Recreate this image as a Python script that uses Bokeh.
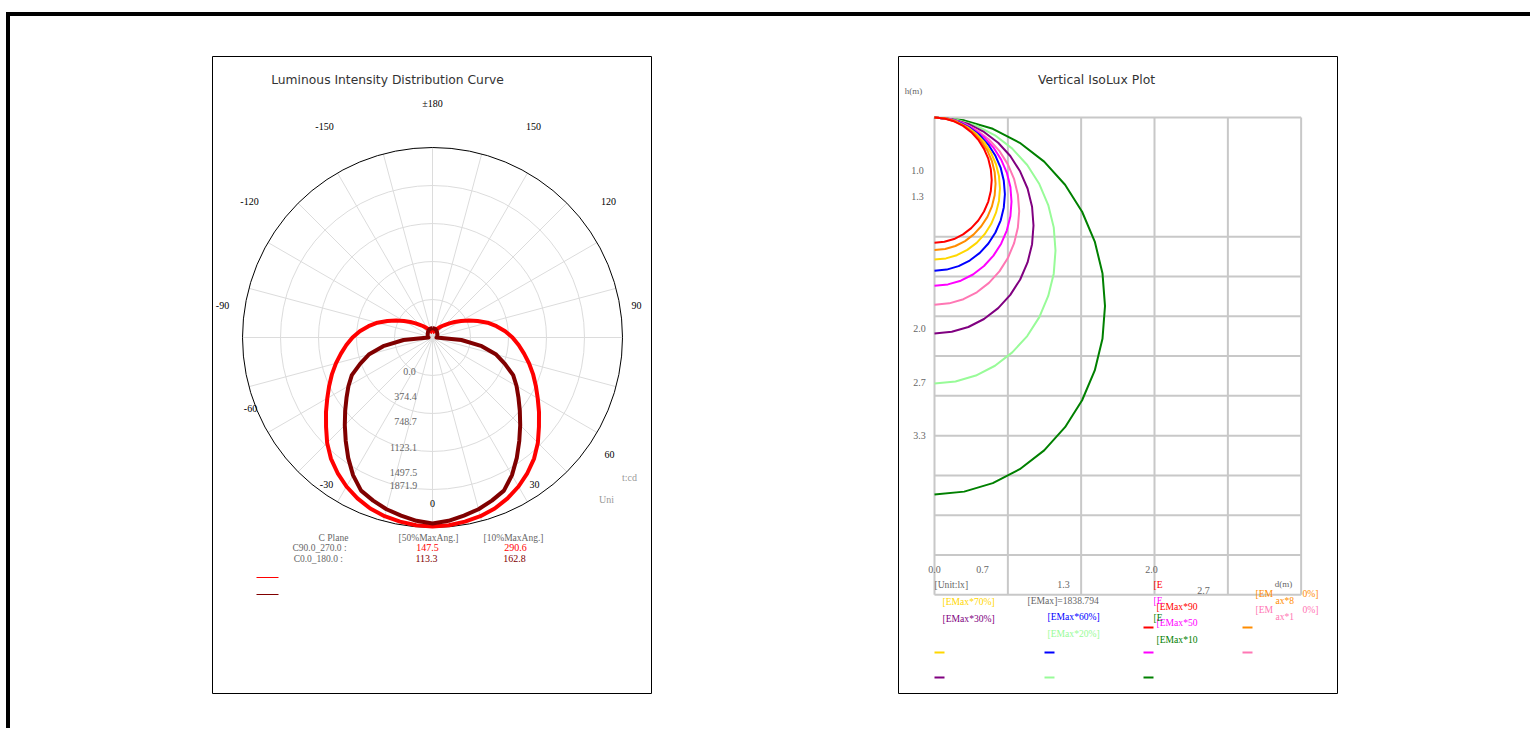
import numpy as np
from bokeh.plotting import figure
from bokeh.models import Range1d
from bokeh.layouts import row
from bokeh.embed import file_html
from bokeh.resources import INLINE
from bokeh.core.properties import value

# ---------------- data: luminous intensity distribution (cd) ----------------
gamma_deg = list(range(0, 181, 5))
c90_270_cd = [1862, 1857, 1842, 1823, 1793, 1749, 1695, 1630, 1557, 1468, 1369, 1281, 1197,
              1123, 1054, 985, 916, 852, 788, 719, 640, 562, 473, 394, 325, 266, 217, 177,
              148, 123, 103, 89, 74, 64, 59, 54, 52]
c0_180_cd = [1832, 1813, 1782, 1752, 1710, 1665, 1566, 1448, 1330, 1222, 1123, 1034, 956,
             877, 759, 650, 493, 286, 39, 42, 45, 48, 50, 53, 55, 58, 60, 65, 69, 74, 79,
             83, 86, 88, 90, 91, 92]
ring_cd = [374.4, 748.7, 1123.1, 1497.5, 1871.9]
ring_labels = ["0.0", "374.4", "748.7", "1123.1", "1497.5", "1871.9"]
angle_labels = ["±180", "-150", "150", "-120", "120", "-90", "90", "-60", "60", "-30", "30", "0"]
plane_names = ["C90.0_270.0 :", "C0.0_180.0  :"]
beam50_deg = [147.5, 113.3]
beam10_deg = [290.6, 162.8]

# ---------------- data: vertical isolux (d, h in metres) ----------------
emax_lx = 1838.794
iso_levels = [90, 80, 70, 60, 50, 40, 30, 20, 10]
iso_d_90 = [0, .090, .178, .26, .334, .398, .450, .489, .512, .52, .512, .489, .450, .398, .334, .26, .178, .090, 0]
iso_h_90 = [0, .008, .032, .070, .123, .187, .263, .345, .434, .525, .616, .705, .788, .863, .927, .980, 1.019, 1.042, 1.05]
iso_d_80 = [0, .097, .190, .278, .357, .425, .481, .522, .547, .555, .547, .522, .481, .425, .357, .278, .190, .097, 0]
iso_h_80 = [0, .008, .033, .074, .130, .198, .278, .365, .458, .555, .652, .745, .833, .912, .980, 1.036, 1.077, 1.102, 1.11]
iso_d_70 = [0, .104, .203, .298, .383, .456, .515, .559, .586, .595, .586, .559, .515, .456, .383, .298, .203, .104, 0]
iso_h_70 = [0, .009, .036, .080, .139, .212, .298, .392, .491, .595, .699, .798, .893, .978, 1.051, 1.110, 1.154, 1.181, 1.19]
iso_d_60 = [0, .111, .219, .32, .412, .490, .554, .602, .630, .64, .630, .602, .554, .490, .412, .32, .219, .111, 0]
iso_h_60 = [0, .010, .039, .086, .150, .229, .321, .423, .531, .643, .754, .862, .964, 1.056, 1.135, 1.199, 1.246, 1.275, 1.285]
iso_d_50 = [0, .122, .239, .35, .450, .536, .606, .658, .690, .70, .690, .658, .606, .536, .450, .35, .239, .122, 0]
iso_h_50 = [0, .011, .042, .094, .165, .252, .353, .464, .582, .705, .828, .946, 1.058, 1.158, 1.245, 1.316, 1.368, 1.399, 1.41]
iso_d_40 = [0, .134, .263, .385, .495, .590, .667, .724, .758, .77, .758, .724, .667, .590, .495, .385, .263, .134, 0]
iso_h_40 = [0, .012, .047, .105, .184, .280, .393, .517, .648, .785, .922, 1.053, 1.178, 1.290, 1.386, 1.465, 1.523, 1.558, 1.57]
iso_d_30 = [0, .157, .308, .45, .579, .689, .779, .846, .887, .90, .887, .846, .779, .689, .579, .45, .308, .157, 0]
iso_h_30 = [0, .014, .054, .121, .212, .323, .453, .595, .748, .905, 1.062, 1.215, 1.358, 1.487, 1.598, 1.689, 1.756, 1.796, 1.81]
iso_d_20 = [0, .191, .376, .55, .707, .843, .953, 1.034, 1.084, 1.10, 1.084, 1.034, .953, .843, .707, .55, .376, .191, 0]
iso_h_20 = [0, .017, .067, .149, .261, .398, .558, .734, .921, 1.115, 1.309, 1.496, 1.673, 1.832, 1.969, 2.081, 2.163, 2.213, 2.23]
iso_d_10 = [0, .270, .530, .775, .997, 1.187, 1.342, 1.457, 1.527, 1.55, 1.527, 1.457, 1.342, 1.187, .997, .775, .530, .270, 0]
iso_h_10 = [0, .024, .095, .212, .370, .564, .790, 1.040, 1.305, 1.58, 1.855, 2.120, 2.370, 2.596, 2.790, 2.948, 3.065, 3.136, 3.16]
d_grid_m = [0.667, 1.333, 2.0, 2.667]
h_grid_m = [1.0, 1.333, 1.667, 2.0, 2.333, 2.667, 3.0, 3.333, 3.667]
d_tick_labels = ["0.0", "0.7", "1.3", "2.0", "2.7"]
h_tick_labels = ["1.0", "1.3", "2.0", "2.7", "3.3"]

# ---------------- layout constants ----------------
FW, FH = 440, 638
L_X0, L_Y0 = 212, 56            # left panel page position
R_X0, R_Y0 = 898, 56            # right panel page position
PCX, PCY = 432, 337             # polar centre (page px)
S = 1871.9 / 190.0              # cd per pixel
OX, OY = 934, 117               # isolux origin (page px)
KX, KY = 110.0, 119.3           # px per metre
D_MAX, H_MAX = 3.333, 4.0

SERIF = value("Liberation Serif")
SANS = value("DejaVu Sans")


def lp(px, py):
    return (px - PCX) * S, (PCY - py) * S


def rp(px, py):
    return (px - OX) / KX, (py - OY) / KY


def put_text(p, conv, pos, texts, colors, size="10px", align="center", font=SERIF):
    xs, ys = [], []
    for (px, py) in pos:
        x, y = conv(px, py)
        xs.append(x)
        ys.append(y)
    p.text(x=xs, y=ys, text=texts, text_color=colors, text_font=font,
           text_font_size=size, text_align=align, text_baseline="middle")


def base_fig(xr, yr):
    p = figure(width=FW, height=FH, x_range=xr, y_range=yr, output_backend="svg",
               toolbar_location=None, min_border=0, title=None,
               outline_line_color="black", outline_line_width=1,
               background_fill_color="white", border_fill_color="white")
    p.axis.visible = False
    p.grid.visible = False
    return p


# ================= left: polar luminous intensity =================
lx0, ly1 = lp(L_X0, L_Y0)
lx1, ly0 = lp(L_X0 + FW, L_Y0 + FH)
left = base_fig(Range1d(lx0, lx1), Range1d(ly0, ly1))

R = ring_cd[-1]
spokes = np.radians(np.arange(0, 360, 15))
left.segment(x0=0, y0=0, x1=R * np.sin(spokes), y1=-R * np.cos(spokes),
             line_color="#dcdcdc", line_width=1)
left.circle(x=[0] * 4, y=[0] * 4, radius=ring_cd[:-1], fill_color=None,
            line_color="#dcdcdc", line_width=1)
left.circle(x=[0], y=[0], radius=[R], fill_color=None, line_color="black", line_width=1)


def polar_xy(vals):
    g = np.radians(np.array(gamma_deg, dtype=float))
    v = np.array(vals, dtype=float)
    gg = np.concatenate([-g[::-1], g[1:]])
    vv = np.concatenate([v[::-1], v[1:]])
    return vv * np.sin(gg), -vv * np.cos(gg)


x1, y1 = polar_xy(c90_270_cd)
left.line(x1, y1, line_color="#ff0000", line_width=4, line_join="round")
x2, y2 = polar_xy(c0_180_cd)
left.line(x2, y2, line_color="#800000", line_width=4, line_join="round")

put_text(left, lp, [(432, 103), (324, 126), (533, 126), (249, 201), (608, 201), (222, 305),
                    (636, 305), (250, 408), (609, 454), (326, 484), (534, 484), (432, 503)],
         angle_labels, ["black"] * 12)
put_text(left, lp, [(409, 371), (405, 396), (405, 421), (403, 447), (403, 472), (403, 485)],
         ring_labels, ["#666666"] * 6)
put_text(left, lp, [(629, 477), (606, 499)], ["t:cd", "Uni"], ["#999999"] * 2)
put_text(left, lp, [(387, 79)], ["Luminous Intensity Distribution Curve"], ["#333333"],
         size="12.3px", font=SANS)

put_text(left, lp, [(333, 537), (428, 537), (513, 537)],
         ["C Plane", "[50%MaxAng.]", "[10%MaxAng.]"], ["#666666"] * 3, size="9.5px")
put_text(left, lp, [(319, 547), (319, 558)], plane_names, ["#666666"] * 2, size="9.5px")
put_text(left, lp, [(427, 547), (426, 558)], [f"{v:.1f}" for v in beam50_deg],
         ["#ff0000", "#800000"])
put_text(left, lp, [(515, 547), (514, 558)], [f"{v:.1f}" for v in beam10_deg],
         ["#ff0000", "#800000"])
for (yy, col) in [(577, "#ff0000"), (594, "#800000")]:
    a0, b0 = lp(256, yy)
    a1, b1 = lp(278, yy)
    left.segment(x0=[a0], y0=[b0], x1=[a1], y1=[b1], line_color=col, line_width=1)

# ================= right: vertical isolux =================
rx0, ry_top = rp(R_X0, R_Y0)
rx1, ry_bot = rp(R_X0 + FW, R_Y0 + FH)
right = base_fig(Range1d(rx0, rx1), Range1d(ry_bot, ry_top))

GRID = "#c8c8c8"
right.segment(x0=d_grid_m, y0=[0] * 4, x1=d_grid_m, y1=[H_MAX] * 4,
              line_color=GRID, line_width=2)
right.segment(x0=[0] * len(h_grid_m), y0=h_grid_m, x1=[D_MAX] * len(h_grid_m), y1=h_grid_m,
              line_color=GRID, line_width=2)
right.segment(x0=[0, 0, D_MAX, 0], y0=[0, 0, 0, H_MAX], x1=[D_MAX, 0, D_MAX, D_MAX],
              y1=[0, H_MAX, H_MAX, H_MAX], line_color=GRID, line_width=2)

iso_colors = ["#ff0000", "#ff8c00", "#ffd700", "#0000ff", "#ff00ff", "#ff77b4",
              "#800080", "#98fb98", "#008000"]
iso_d = [iso_d_90, iso_d_80, iso_d_70, iso_d_60, iso_d_50, iso_d_40, iso_d_30, iso_d_20, iso_d_10]
iso_h = [iso_h_90, iso_h_80, iso_h_70, iso_h_60, iso_h_50, iso_h_40, iso_h_30, iso_h_20, iso_h_10]
for dd, hh, col in zip(iso_d[::-1], iso_h[::-1], iso_colors[::-1]):
    right.line(dd, hh, line_color=col, line_width=2, line_join="round")

put_text(right, rp, [(1096, 79)], ["Vertical IsoLux Plot"], ["#333333"], size="12.4px", font=SANS)
put_text(right, rp, [(913, 90)], ["h(m)"], ["#666666"], size="9px")
put_text(right, rp, [(917, 170), (917, 196), (919, 328), (919, 382), (919, 435)],
         h_tick_labels, ["#666666"] * 5)
put_text(right, rp, [(934, 569), (982, 569), (1063, 584), (1151, 569), (1203, 590)],
         d_tick_labels, ["#666666"] * 5)
put_text(right, rp, [(1283, 583)], ["d(m)"], ["#666666"], size="9px")

lab = {lv: f"[EMax*{lv}%]" for lv in iso_levels}
col = dict(zip(iso_levels, iso_colors))
put_text(right, rp,
         [(934, 584), (1027, 600), (942, 601), (942, 618), (1047, 616), (1047, 633)],
         ["[Unit:lx]", f"[EMax]={emax_lx}", lab[70], lab[30], lab[60], lab[20]],
         ["#666666", "#666666", col[70], col[30], col[60], col[20]], align="left", size="9.6px")
put_text(right, rp,
         [(1153, 584), (1156, 606), (1153, 600), (1156, 622), (1153, 617), (1156, 639)],
         ["[E", lab[90][:8], "[E", lab[50][:8], "[E", lab[10][:8]],
         [col[90], col[90], col[50], col[50], col[10], col[10]], align="left", size="9.6px")
put_text(right, rp,
         [(1255, 593), (1275, 600), (1302, 593), (1255, 609), (1275, 616), (1302, 609)],
         ["[EM", "ax*8", "0%]", "[EM", "ax*1", "0%]"],
         [col[80], col[80], col[80], col[40], col[40], col[40]], align="left", size="9.6px")

mk_pos = [(1143, 627), (1242, 627), (934, 652), (1044, 652), (1143, 652), (1242, 652),
          (934, 677), (1044, 677), (1143, 677)]
for (mx, my), c in zip(mk_pos, iso_colors):
    a0, b0 = rp(mx, my)
    a1, b1 = rp(mx + 10, my)
    right.segment(x0=[a0], y0=[b0], x1=[a1], y1=[b1], line_color=c, line_width=2)

# ================= page =================
left.margin = (40, 0, 0, 202)
right.margin = (40, 0, 0, 246)
page = row(left, right, width=1524, height=716, margin=(12, 0, 0, 6),
           styles={"border-top": "4px solid black", "border-left": "4px solid black"})

with open("out.html", "w") as f:
    f.write(file_html(page, INLINE, title="Photometric charts"))
